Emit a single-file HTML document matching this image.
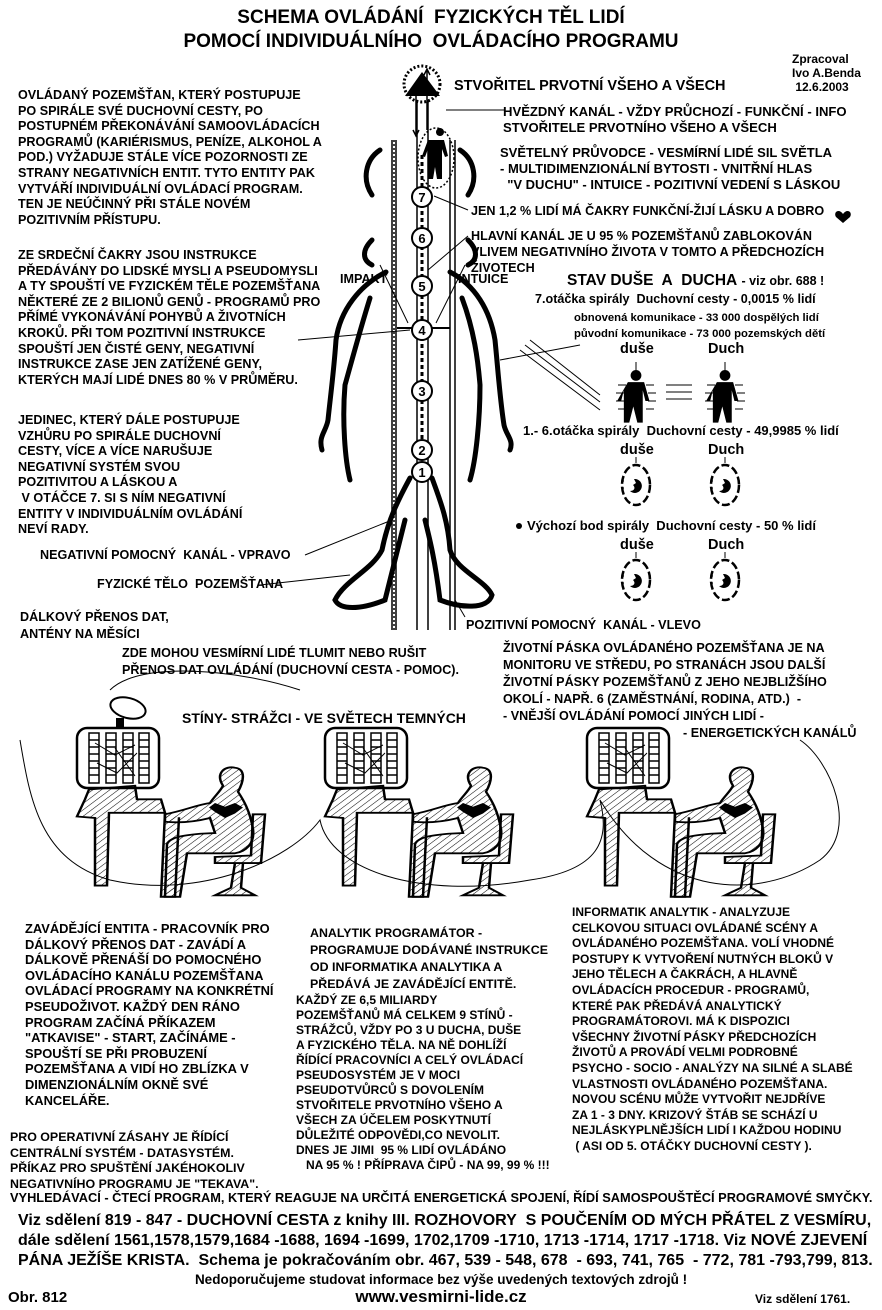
<!DOCTYPE html>
<html><head><meta charset="utf-8">
<style>
html,body{margin:0;padding:0;background:#fff}
#p{position:relative;width:882px;height:1310px;overflow:hidden;background:#fff;font-family:"Liberation Sans",Arial,sans-serif;font-weight:bold;color:#000}
.t{position:absolute;white-space:nowrap;font-size:12.6px;line-height:15.6px}
svg{position:absolute;left:0;top:0}
</style></head><body><div id="p">
<svg width="882" height="1310" viewBox="0 0 882 1310">
<defs>
<pattern id="h" width="6" height="6" patternUnits="userSpaceOnUse" patternTransform="rotate(45)"><line x1="0" y1="0" x2="0" y2="6" stroke="#000" stroke-width="1.2"/></pattern>
<g id="ws">
 <rect x="2" y="0" width="82" height="60" rx="10" fill="#fff" stroke="#000" stroke-width="2.5"/>
 <g fill="none" stroke="#000" stroke-width="1.5">
  <rect x="14" y="5" width="10" height="50"/><rect x="31" y="5" width="10" height="50"/><rect x="48" y="5" width="10" height="50"/><rect x="64" y="5" width="10" height="50"/>
  <path d="M14 12h10M14 19h10M14 26h10M14 33h10M14 40h10M14 47h10M31 12h10M31 19h10M31 26h10M31 33h10M31 40h10M31 47h10M48 12h10M48 19h10M48 26h10M48 33h10M48 40h10M48 47h10M64 12h10M64 19h10M64 26h10M64 33h10M64 40h10M64 47h10"/>
  <path d="M20 15l20 12 20-10M22 35l20 10 20-20M40 20l20 28" stroke-width="1"/>
 </g>
 <g transform="translate(0,45) scale(1,0.75) translate(0,-45)">
 <path d="M14 67 L60 62 L62 80 L86 80 L90 98 L34 98 L32 195 L20 195 L20 105 L2 103 L10 80Z" fill="url(#h)" stroke="#000" stroke-width="2.5"/>
 <path d="M90 98 L86 210 L100 210 L104 104" fill="url(#h)" stroke="#000" stroke-width="2.5"/>
 <path d="M148 62 C140 45 150 35 160 38 C172 40 168 58 163 70 C168 80 175 95 178 120 C180 140 170 150 160 152 L112 152 L105 210 L90 210 L92 140 C95 130 110 128 125 126 L140 125 L135 105 C120 110 105 112 90 110 L90 100 C110 95 120 88 135 85 C140 75 145 70 148 62Z" fill="url(#h)" stroke="#000" stroke-width="2.5"/>
 <path d="M140 85 l10 5 10-5 8 6-8 8-10 6-10-8-6-6z" fill="#000"/>
 <path d="M178 100 L190 100 L186 165 L140 165 L140 157 L176 155Z" fill="url(#h)" stroke="#000" stroke-width="2.5"/>
 <path d="M160 165 L156 198 L140 208 L180 208 L166 198 L168 165" fill="url(#h)" stroke="#000" stroke-width="2.5"/>
 </g>
</g>
<g id="fig"><circle cx="0" cy="-16" r="4"/><path d="M-6 -11h12l4 14-3 0-2-8 0 24-4 0-3-12-3 12-4 0 0-24-2 8-3 0z"/></g>
<g id="arr" stroke="#000" stroke-width="1" fill="none"><path d="M-10-12h-8M-12-4h-8M-12 4h-8M-10 12h-8M10-12h8M12-4h8M12 4h8M10 12h8"/></g>
<g id="egg"><ellipse cx="0" cy="0" rx="14" ry="20" fill="#fff" stroke="#000" stroke-width="2.5" stroke-dasharray="8 3"/><path d="M-2 -6 a7 7 0 1 1 -4 12 c4 0 6-3 3-6 l3-2z" fill="#000"/><path d="M-12 -4h-3M-12 3h-3M0-22v-6" stroke="#000"/></g>
</defs>
<g fill="none" stroke="#000" stroke-width="5" stroke-linecap="round">
 <path d="M386 272 C360 285 340 310 336 340 C334 370 330 400 328 420 C326 432 318 436 322 450"/>
 <path d="M370 298 C360 330 352 360 345 385 C342 420 345 460 350 480"/>
 <path d="M450 272 C475 285 490 310 495 340 C498 370 500 400 504 425 C506 435 514 440 510 450"/>
 <path d="M462 298 C474 330 478 360 480 385 C480 420 476 460 470 480"/>
 <path d="M410 478 C398 500 388 520 382 550 C372 570 345 580 335 600 C340 610 360 610 385 600 C395 560 400 540 405 520"/>
 <path d="M432 478 C440 500 448 520 450 550 C456 570 485 580 492 595 C488 610 460 608 440 600 C435 560 430 540 425 520"/>
 <path d="M380 150 C365 160 362 180 372 195 M460 150 C475 160 478 180 468 195 M372 240 C362 250 362 260 372 265 M468 240 C478 250 478 260 468 265"/>
</g>
<g stroke="#000" fill="none">
 <line x1="392" y1="140" x2="392" y2="630" stroke-width="1.5"/><line x1="396" y1="140" x2="396" y2="630" stroke-width="1.5"/>
 <line x1="394" y1="140" x2="394" y2="630" stroke-width="1.5" stroke-dasharray="2 2"/>
 <line x1="417" y1="100" x2="417" y2="630" stroke-width="1.5"/><line x1="428" y1="100" x2="428" y2="630" stroke-width="1.5"/>
 <line x1="422" y1="155" x2="422" y2="470" stroke-width="3" stroke-dasharray="4 3"/>
 <line x1="450" y1="140" x2="450" y2="630" stroke-width="1.5"/><line x1="455" y1="140" x2="455" y2="630" stroke-width="1.5"/>
 <path d="M416 135v-50M413 130l3 6 3-6M427 70v60M424 75l3-6 3 6" stroke-width="1.5"/>
 <line x1="397" y1="328" x2="450" y2="328" stroke-width="2"/>
 <path d="M380 265 L408 323 M465 265 L436 323 M298 340 L410 330 M305 555 L392 520 M260 585 L350 575 M465 617 L455 600 M446 110 L505 110 M434 196 L468 210 M428 270 L468 236 M530 340 L600 395 M525 345 L600 402 M520 350 L600 410 M580 345 L500 360" stroke-width="1"/>
</g>
<g fill="#fff" stroke="#000" stroke-width="2">
 <circle cx="422" cy="197" r="10"/><circle cx="422" cy="238" r="10"/><circle cx="422" cy="286" r="10"/><circle cx="422" cy="330" r="10"/><circle cx="422" cy="391" r="10"/><circle cx="422" cy="450" r="10"/><circle cx="422" cy="472" r="10"/>
</g>
<g font-size="13" text-anchor="middle" font-family="Liberation Sans" font-weight="bold">
 <text x="422" y="202">7</text><text x="422" y="243">6</text><text x="422" y="291">5</text><text x="422" y="335">4</text><text x="422" y="396">3</text><text x="422" y="455">2</text><text x="422" y="477">1</text>
</g>
<path d="M422 72 L405 96 L440 96Z" fill="#000"/><circle cx="422" cy="84" r="18" fill="none" stroke="#000" stroke-width="3" stroke-dasharray="2 2"/>
<ellipse cx="436" cy="158" rx="18" ry="30" fill="none" stroke="#000" stroke-width="1.5" stroke-dasharray="2 2"/>
<path d="M436 132a4 4 0 1 1 0 .1M428 140h16l4 16-3 1-3-8 0 30-5 0-2-12-2 12-5 0 0-30-3 8-3-1z" fill="#000"/>
<path d="M843 214 c-4-6-10-2-7 3 l7 6 7-6 c3-5-3-9-7-3z" fill="#000"/>
<g fill="#000"><use href="#fig" transform="translate(636 397) scale(1.35)"/><use href="#fig" transform="translate(725 397) scale(1.35)"/></g>
<use href="#arr" x="636" y="397"/><use href="#arr" x="725" y="397"/>
<g stroke="#000" stroke-width="1"><path d="M666 385h26M666 392h26M666 399h26"/><path d="M636 362v8M725 362v8"/></g>
<use href="#egg" x="636" y="485"/><use href="#egg" x="725" y="485"/>
<use href="#egg" x="636" y="580"/><use href="#egg" x="725" y="580"/>
<circle cx="519" cy="526" r="3" fill="#000"/>
<use href="#ws" x="75" y="728"/><use href="#ws" x="323" y="728"/><use href="#ws" x="585" y="728"/>
<ellipse cx="128" cy="708" rx="18" ry="10" fill="#fff" stroke="#000" stroke-width="2" transform="rotate(15 128 708)"/>
<rect x="116" y="718" width="8" height="10" fill="#000"/>
<g fill="none" stroke="#000" stroke-width="1">
 <path d="M110 690 C140 660 240 670 300 690 M20 740 C30 800 40 860 110 880 C200 900 290 860 320 820 C330 870 420 900 530 880 C600 870 610 840 600 800 C660 900 760 900 820 860 C860 830 830 760 800 740"/>
</g>
</svg>

<div class="t" style="left:0;width:862px;text-align:center;top:6px;font-size:19px;line-height:24px">SCHEMA OVLÁDÁNÍ&nbsp; FYZICKÝCH TĚL LIDÍ<br>POMOCÍ INDIVIDUÁLNÍHO&nbsp; OVLÁDACÍHO PROGRAMU</div>
<div class="t" style="left:792px;top:52px;line-height:14px;text-align:left;font-size:12px">Zpracoval<br>Ivo A.Benda<br>&nbsp;12.6.2003</div>

<div class="t" style="left:18px;top:88px">OVLÁDANÝ POZEMŠŤAN, KTERÝ POSTUPUJE<br>PO SPIRÁLE SVÉ DUCHOVNÍ CESTY, PO<br>POSTUPNÉM PŘEKONÁVÁNÍ SAMOOVLÁDACÍCH<br>PROGRAMŮ (KARIÉRISMUS, PENÍZE, ALKOHOL A<br>POD.) VYŽADUJE STÁLE VÍCE POZORNOSTI ZE<br>STRANY NEGATIVNÍCH ENTIT. TYTO ENTITY PAK<br>VYTVÁŘÍ INDIVIDUÁLNÍ OVLÁDACÍ PROGRAM.<br>TEN JE NEÚČINNÝ PŘI STÁLE NOVÉM<br>POZITIVNÍM PŘÍSTUPU.</div>
<div class="t" style="left:18px;top:248px">ZE SRDEČNÍ ČAKRY JSOU INSTRUKCE<br>PŘEDÁVÁNY DO LIDSKÉ MYSLI A PSEUDOMYSLI<br>A TY SPOUŠTÍ VE FYZICKÉM TĚLE POZEMŠŤANA<br>NĚKTERÉ ZE 2 BILIONŮ GENŮ - PROGRAMŮ PRO<br>PŘÍMÉ VYKONÁVÁNÍ POHYBŮ A ŽIVOTNÍCH<br>KROKŮ. PŘI TOM POZITIVNÍ INSTRUKCE<br>SPOUŠTÍ JEN ČISTÉ GENY, NEGATIVNÍ<br>INSTRUKCE ZASE JEN ZATÍŽENÉ GENY,<br>KTERÝCH MAJÍ LIDÉ DNES 80 % V PRŮMĚRU.</div>
<div class="t" style="left:18px;top:413px">JEDINEC, KTERÝ DÁLE POSTUPUJE<br>VZHŮRU PO SPIRÁLE DUCHOVNÍ<br>CESTY, VÍCE A VÍCE NARUŠUJE<br>NEGATIVNÍ SYSTÉM SVOU<br>POZITIVITOU A LÁSKOU A<br>&nbsp;V OTÁČCE 7. SI S NÍM NEGATIVNÍ<br>ENTITY V INDIVIDUÁLNÍM OVLÁDÁNÍ<br>NEVÍ RADY.</div>
<div class="t" style="left:40px;top:548px">NEGATIVNÍ POMOCNÝ&nbsp; KANÁL - VPRAVO</div>
<div class="t" style="left:97px;top:577px">FYZICKÉ TĚLO&nbsp; POZEMŠŤANA</div>
<div class="t" style="left:20px;top:609px;line-height:17px">DÁLKOVÝ PŘENOS DAT,<br>ANTÉNY NA MĚSÍCI</div>
<div class="t" style="left:122px;top:645px;line-height:17px">ZDE MOHOU VESMÍRNÍ LIDÉ TLUMIT NEBO RUŠIT<br>PŘENOS DAT OVLÁDÁNÍ (DUCHOVNÍ CESTA - POMOC).</div>
<div class="t" style="left:182px;top:711px;font-size:14px">STÍNY- STRÁŽCI - VE SVĚTECH TEMNÝCH</div>
<div class="t" style="left:340px;top:272px">IMPAKT</div>
<div class="t" style="left:458px;top:272px">INTUICE</div>

<div class="t" style="left:454px;top:79px;font-size:14.5px">STVOŘITEL PRVOTNÍ VŠEHO A VŠECH</div>
<div class="t" style="left:503px;top:104px;line-height:16px;font-size:13.1px">HVĚZDNÝ KANÁL - VŽDY PRŮCHOZÍ - FUNKČNÍ - INFO<br>STVOŘITELE PRVOTNÍHO VŠEHO A VŠECH</div>
<div class="t" style="left:500px;top:145px;line-height:16px;font-size:13px">SVĚTELNÝ PRŮVODCE - VESMÍRNÍ LIDÉ SIL SVĚTLA<br>- MULTIDIMENZIONÁLNÍ BYTOSTI - VNITŘNÍ HLAS<br>&nbsp;&nbsp;"V DUCHU" - INTUICE - POZITIVNÍ VEDENÍ S LÁSKOU</div>
<div class="t" style="left:471px;top:204px">JEN 1,2 % LIDÍ MÁ ČAKRY FUNKČNÍ-ŽIJÍ LÁSKU A DOBRO</div>
<div class="t" style="left:471px;top:228px;line-height:16px">HLAVNÍ KANÁL JE U 95 % POZEMŠŤANŮ ZABLOKOVÁN<br>VLIVEM NEGATIVNÍHO ŽIVOTA V TOMTO A PŘEDCHOZÍCH<br>ŽIVOTECH</div>
<div class="t" style="left:567px;top:273px;font-size:15.5px;font-weight:normal"><b>STAV DUŠE&nbsp; A&nbsp; DUCHA</b> <b style="font-size:12.5px">- viz obr. 688 !</b></div>
<div class="t" style="left:535px;top:292px">7.otáčka spirály&nbsp; Duchovní cesty - 0,0015 % lidí</div>
<div class="t" style="left:574px;top:310px;font-size:11.3px;line-height:16px">obnovená komunikace - 33 000 dospělých lidí<br>původní komunikace - 73 000 pozemských dětí</div>
<div class="t" style="left:620px;top:342px;font-size:14.5px">duše</div><div class="t" style="left:708px;top:342px;font-size:14.5px">Duch</div>
<div class="t" style="left:523px;top:423px;font-size:13px">1.- 6.otáčka spirály&nbsp; Duchovní cesty - 49,9985 % lidí</div>
<div class="t" style="left:620px;top:443px;font-size:14.5px">duše</div><div class="t" style="left:708px;top:443px;font-size:14.5px">Duch</div>
<div class="t" style="left:527px;top:518px;font-size:13px">Výchozí bod spirály&nbsp; Duchovní cesty - 50 % lidí</div>
<div class="t" style="left:620px;top:538px;font-size:14.5px">duše</div><div class="t" style="left:708px;top:538px;font-size:14.5px">Duch</div>
<div class="t" style="left:466px;top:618px">POZITIVNÍ POMOCNÝ&nbsp; KANÁL - VLEVO</div>
<div class="t" style="left:503px;top:640px;line-height:17px">ŽIVOTNÍ PÁSKA OVLÁDANÉHO POZEMŠŤANA JE NA<br>MONITORU VE STŘEDU, PO STRANÁCH JSOU DALŠÍ<br>ŽIVOTNÍ PÁSKY POZEMŠŤANŮ Z JEHO NEJBLIŽŠÍHO<br>OKOLÍ - NAPŘ. 6 (ZAMĚSTNÁNÍ, RODINA, ATD.)&nbsp; -<br>- VNĚJŠÍ OVLÁDÁNÍ POMOCÍ JINÝCH LIDÍ -<br><span style="padding-left:180px">- ENERGETICKÝCH KANÁLŮ</span></div>

<div class="t" style="left:25px;top:921px;font-size:12.9px">ZAVÁDĚJÍCÍ ENTITA - PRACOVNÍK PRO<br>DÁLKOVÝ PŘENOS DAT - ZAVÁDÍ A<br>DÁLKOVĚ PŘENÁŠÍ DO POMOCNÉHO<br>OVLÁDACÍHO KANÁLU POZEMŠŤANA<br>OVLÁDACÍ PROGRAMY NA KONKRÉTNÍ<br>PSEUDOŽIVOT. KAŽDÝ DEN RÁNO<br>PROGRAM ZAČÍNÁ PŘÍKAZEM<br>"ATKAVISE" - START, ZAČÍNÁME -<br>SPOUŠTÍ SE PŘI PROBUZENÍ<br>POZEMŠŤANA A VIDÍ HO ZBLÍZKA V<br>DIMENZIONÁLNÍM OKNĚ SVÉ<br>KANCELÁŘE.</div>
<div class="t" style="left:310px;top:925px;line-height:17px;font-size:12.4px">ANALYTIK PROGRAMÁTOR -<br>PROGRAMUJE DODÁVANÉ INSTRUKCE<br>OD INFORMATIKA ANALYTIKA A<br>PŘEDÁVÁ JE ZAVÁDĚJÍCÍ ENTITĚ.</div>
<div class="t" style="left:296px;top:993px;line-height:15px;font-size:12px">KAŽDÝ ZE 6,5 MILIARDY<br>POZEMŠŤANŮ MÁ CELKEM 9 STÍNŮ -<br>STRÁŽCŮ, VŽDY PO 3 U DUCHA, DUŠE<br>A FYZICKÉHO TĚLA. NA NĚ DOHLÍŽÍ<br>ŘÍDÍCÍ PRACOVNÍCI A CELÝ OVLÁDACÍ<br>PSEUDOSYSTÉM JE V MOCI<br>PSEUDOTVŮRCŮ S DOVOLENÍM<br>STVOŘITELE PRVOTNÍHO VŠEHO A<br>VŠECH ZA ÚČELEM POSKYTNUTÍ<br>DŮLEŽITÉ ODPOVĚDI,CO NEVOLIT.<br>DNES JE JIMI&nbsp; 95 % LIDÍ OVLÁDÁNO<br>&nbsp;&nbsp; NA 95 % ! PŘÍPRAVA ČIPŮ - NA 99, 99 % !!!</div>
<div class="t" style="left:572px;top:905px;font-size:12px">INFORMATIK ANALYTIK - ANALYZUJE<br>CELKOVOU SITUACI OVLÁDANÉ SCÉNY A<br>OVLÁDANÉHO POZEMŠŤANA. VOLÍ VHODNÉ<br>POSTUPY K VYTVOŘENÍ NUTNÝCH BLOKŮ V<br>JEHO TĚLECH A ČAKRÁCH, A HLAVNĚ<br>OVLÁDACÍCH PROCEDUR - PROGRAMŮ,<br>KTERÉ PAK PŘEDÁVÁ ANALYTICKÝ<br>PROGRAMÁTOROVI. MÁ K DISPOZICI<br>VŠECHNY ŽIVOTNÍ PÁSKY PŘEDCHOZÍCH<br>ŽIVOTŮ A PROVÁDÍ VELMI PODROBNÉ<br>PSYCHO - SOCIO - ANALÝZY NA SILNÉ A SLABÉ<br>VLASTNOSTI OVLÁDANÉHO POZEMŠŤANA.<br>NOVOU SCÉNU MŮŽE VYTVOŘIT NEJDŘÍVE<br>ZA 1 - 3 DNY. KRIZOVÝ ŠTÁB SE SCHÁZÍ U<br>NEJLÁSKYPLNĚJŠÍCH LIDÍ I KAŽDOU HODINU<br>&nbsp;( ASI OD 5. OTÁČKY DUCHOVNÍ CESTY ).</div>
<div class="t" style="left:10px;top:1130px;font-size:12.4px">PRO OPERATIVNÍ ZÁSAHY JE ŘÍDÍCÍ<br>CENTRÁLNÍ SYSTÉM - DATASYSTÉM.<br>PŘÍKAZ PRO SPUŠTĚNÍ JAKÉHOKOLIV<br>NEGATIVNÍHO PROGRAMU JE "TEKAVA".</div>
<div class="t" style="left:10px;top:1190px;font-size:12.8px">VYHLEDÁVACÍ - ČTECÍ PROGRAM, KTERÝ REAGUJE NA URČITÁ ENERGETICKÁ SPOJENÍ, ŘÍDÍ SAMOSPOUŠTĚCÍ PROGRAMOVÉ SMYČKY.</div>
<div class="t" style="left:18px;top:1211px;font-size:16px;line-height:20px">Viz sdělení 819 - 847 - DUCHOVNÍ CESTA z knihy III. ROZHOVORY&nbsp; S POUČENÍM OD MÝCH PŘÁTEL Z VESMÍRU,<br>dále sdělení 1561,1578,1579,1684 -1688, 1694 -1699, 1702,1709 -1710, 1713 -1714, 1717 -1718. Viz NOVÉ ZJEVENÍ<br>PÁNA JEŽÍŠE KRISTA.&nbsp; Schema je pokračováním obr. 467, 539 - 548, 678&nbsp; - 693, 741, 765&nbsp; - 772, 781 -793,799, 813.</div>
<div class="t" style="left:0;width:882px;text-align:center;top:1272px;font-size:13.5px">Nedoporučujeme studovat informace bez výše uvedených textových zdrojů !</div>
<div class="t" style="left:8px;top:1290px;font-size:15px">Obr. 812</div>
<div class="t" style="left:0;width:882px;text-align:center;top:1289px;font-size:17px">www.vesmirni-lide.cz</div>
<div class="t" style="left:755px;top:1292px;font-size:12px">Viz sdělení 1761.</div>
</div></body></html>
